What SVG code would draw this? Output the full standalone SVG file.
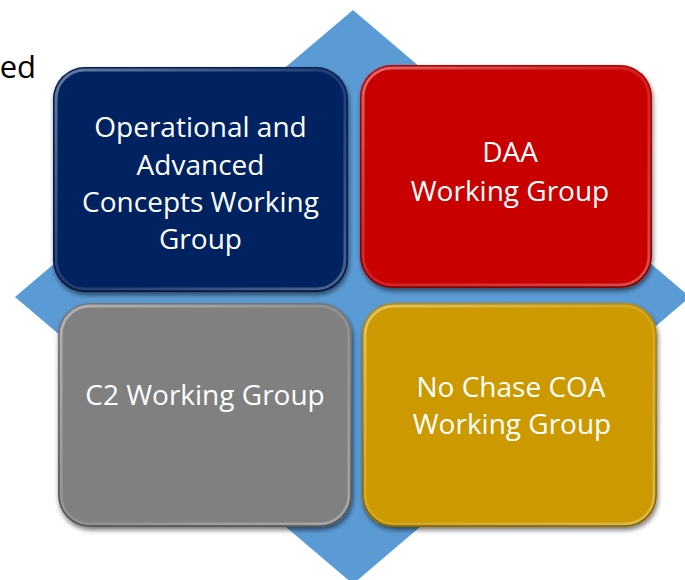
<svg xmlns="http://www.w3.org/2000/svg" width="685" height="580" viewBox="0 0 685 580">
  <defs>
    <filter id="shadow" x="-10%" y="-10%" width="125%" height="125%">
      <feGaussianBlur in="SourceAlpha" stdDeviation="2.5"/>
      <feOffset dx="1" dy="3" result="b"/>
      <feComponentTransfer><feFuncA type="linear" slope="0.55"/></feComponentTransfer>
      <feMerge><feMergeNode/><feMergeNode in="SourceGraphic"/></feMerge>
    </filter>
    <linearGradient id="rim" x1="0" y1="0" x2="1" y2="1">
      <stop offset="0" stop-color="#ffffff" stop-opacity="0.4"/>
      <stop offset="0.5" stop-color="#ffffff" stop-opacity="0.12"/>
      <stop offset="1" stop-color="#ffffff" stop-opacity="0.3"/>
    </linearGradient>
    <linearGradient id="edge" x1="0" y1="0" x2="0" y2="1">
      <stop offset="0" stop-color="#000000" stop-opacity="0.1"/>
      <stop offset="1" stop-color="#000000" stop-opacity="0.4"/>
    </linearGradient>
  </defs>
  <style>
    .lbl { font-family: "Open Sans", "Liberation Sans", sans-serif; font-size: 28px; fill: #ffffff; text-anchor: middle; }
    .rim { fill: none; stroke: url(#rim); stroke-width: 3; }
    .edge { fill: none; stroke: url(#edge); stroke-width: 1.5; }
  </style>
  <rect width="685" height="580" fill="#ffffff"/>
  <text x="36" y="78" font-family="'Open Sans', 'Liberation Sans', sans-serif" font-size="31" fill="#000000" text-anchor="end">ed</text>
  <polygon id="diamond" points="353,10 690,297 353,584 15,297" fill="#5b9bd5"/>

  <g id="node-ops">
    <rect x="53" y="67" width="295" height="225" rx="32" fill="#002060" filter="url(#shadow)"/>
    <rect class="rim" x="56" y="70" width="289" height="219" rx="29"/>
    <rect class="edge" x="54" y="68" width="293" height="223" rx="31"/>
    <text class="lbl" x="200.5" y="137">Operational and</text>
    <text class="lbl" x="200.5" y="175">Advanced</text>
    <text class="lbl" x="200.5" y="212">Concepts Working</text>
    <text class="lbl" x="200.5" y="249">Group</text>
  </g>

  <g id="node-daa">
    <rect x="360" y="65" width="292" height="223" rx="32" fill="#c80000" filter="url(#shadow)"/>
    <rect class="rim" x="363" y="68" width="286" height="217" rx="29"/>
    <rect class="edge" x="361" y="66" width="290" height="221" rx="31"/>
    <text class="lbl" x="510" y="162">DAA</text>
    <text class="lbl" x="510" y="201">Working Group</text>
  </g>

  <g id="node-c2">
    <rect x="58" y="303" width="294" height="224" rx="32" fill="#808080" filter="url(#shadow)"/>
    <rect class="rim" x="61" y="306" width="288" height="218" rx="29"/>
    <rect class="edge" x="59" y="304" width="292" height="222" rx="31"/>
    <text class="lbl" x="205" y="405">C2 Working Group</text>
  </g>

  <g id="node-nochase">
    <rect x="362" y="303" width="295" height="224" rx="32" fill="#cc9900" filter="url(#shadow)"/>
    <rect class="rim" x="365" y="306" width="289" height="218" rx="29"/>
    <rect class="edge" x="363" y="304" width="293" height="222" rx="31"/>
    <text class="lbl" x="511" y="397">No Chase COA</text>
    <text class="lbl" x="512" y="434">Working Group</text>
  </g>
</svg>
